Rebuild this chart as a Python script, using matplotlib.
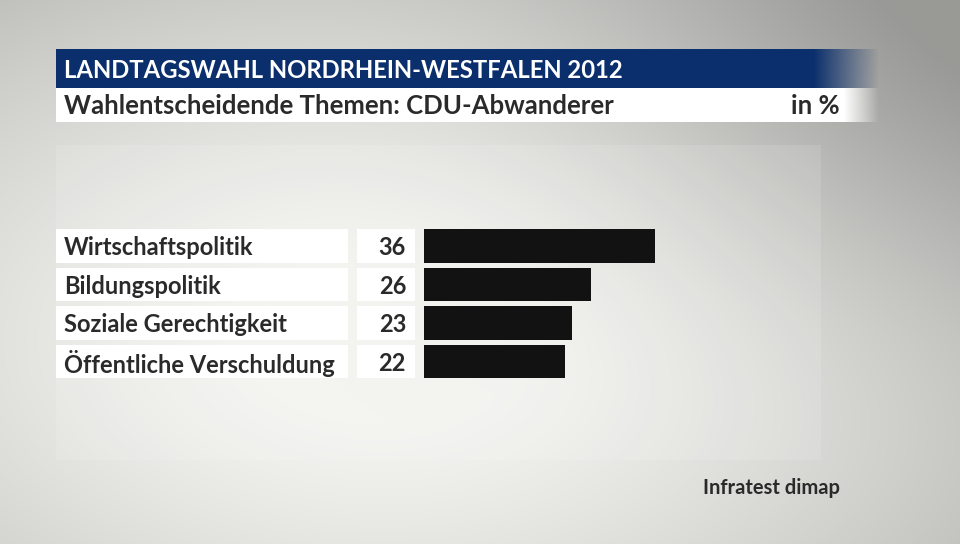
import numpy as np
import matplotlib
matplotlib.use("Agg")
from matplotlib import pyplot as plt
from matplotlib.colors import to_rgb

plt.rcParams['font.family'] = ['Lato', 'DejaVu Sans']

title = "LANDTAGSWAHL NORDRHEIN-WESTFALEN 2012"
subtitle = "Wahlentscheidende Themen: CDU-Abwanderer"
unit = "in %"
source = "Infratest dimap"
categories = ["Wirtschaftspolitik", "Bildungspolitik", "Soziale Gerechtigkeit", "Öffentliche Verschuldung"]
values = [36, 26, 23, 22]

W, H = 960, 544
fig = plt.figure(figsize=(W / 100, H / 100), dpi=100)
ax = fig.add_axes([0, 0, 1, 1])
ax.set_xlim(0, W)
ax.set_ylim(H, 0)
ax.axis("off")

# background: light centre, darker towards the top right and the left edge
yy, xx = np.mgrid[0:H, 0:W]
d = np.sqrt(((xx - 390) / 560.0) ** 2 + ((yy - 340) / 330.0) ** 2)
shade = 0.955 - 0.20 * np.clip(d - 0.25, 0, None) ** 1.3
corner = np.exp(-(((xx - 960) / 380.0) ** 2 + ((yy - 60) / 260.0) ** 2))
shade = shade - 0.14 * corner
shade = np.clip(shade, 0.6, 0.97)
bg = np.dstack([shade, shade, shade * 0.985])
ax.imshow(bg, extent=(0, W, H, 0), zorder=0, aspect="auto")

# faint lighter panel behind the chart
ax.add_patch(plt.Rectangle((56, 145), 765, 315, color="white", alpha=0.12, lw=0, zorder=1))

# header bars with a fade on the right
def fade_bar(x0, x1, y0, y1, color, fade_from):
    n = 400
    xs = np.linspace(x0, x1, n)
    a = np.clip((x1 - xs) / (x1 - fade_from), 0, 1)
    img = np.zeros((1, n, 4))
    img[0, :, :3] = to_rgb(color)
    img[0, :, 3] = a
    ax.imshow(img, extent=(x0, x1, y1, y0), aspect="auto", zorder=2, interpolation="bilinear")

fade_bar(56, 880, 49, 88, "#0b2f6c", 815)
fade_bar(56, 880, 88, 122, "#ffffff", 845)

ax.text(64, 70, title, color="white", fontsize=17.2, fontweight="bold", va="center", ha="left", zorder=3)
ax.text(64, 106, subtitle, color="#2a2a2a", fontsize=18.5, fontweight="bold", va="center", ha="left", zorder=3)
ax.text(840, 106, unit, color="#2a2a2a", fontsize=18.5, fontweight="bold", va="center", ha="right", zorder=3)
ax.text(840, 488, source, color="#2a2a2a", fontsize=14.5, fontweight="bold", va="center", ha="right", zorder=3)

# rows
pitch = 38.5
top = 246 - pitch / 2
n = len(categories)
y = np.arange(n)
rows = fig.add_axes([0, 1 - (top + n * pitch) / H, 1, n * pitch / H])
rows.set_xlim(0, W)
rows.set_ylim(n - 0.5, -0.5)
rows.axis("off")
rows.patch.set_alpha(0)
rows.barh(y, 292, left=56, height=0.87, color="white", zorder=1)
rows.barh(y, 58, left=357, height=0.87, color="white", zorder=1)
for i in range(n):
    rows.text(64, i + 0.04, categories[i], fontsize=17, fontweight="bold", color="#2a2a2a", va="center", ha="left")
    rows.text(406, i + 0.04, str(values[i]), fontsize=17, fontweight="bold", color="#2a2a2a", va="center", ha="right")

# bars
scale = 6.42
bars = fig.add_axes([424 / W, 1 - (top + n * pitch) / H, 40 * scale / W, n * pitch / H])
bars.set_xlim(0, 40)
bars.set_ylim(n - 0.5, -0.5)
bars.axis("off")
bars.patch.set_alpha(0)
bars.barh(y, values, height=0.87, color="#121212")

fig.savefig("out.png", dpi=100)
